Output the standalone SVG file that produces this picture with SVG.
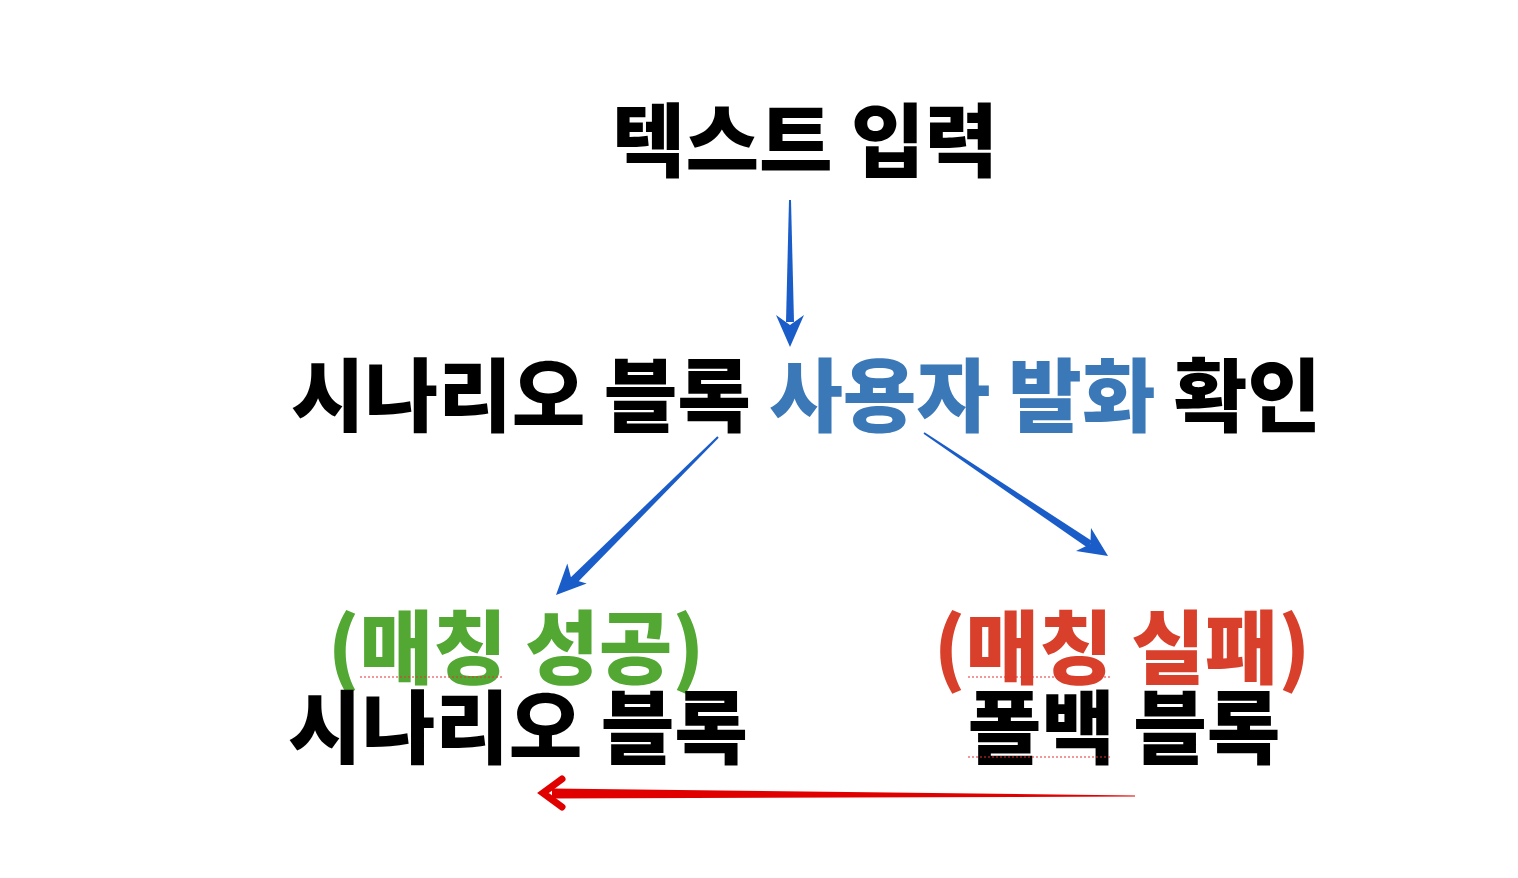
<svg xmlns="http://www.w3.org/2000/svg" width="1518" height="878" viewBox="0 0 1518 878">
<style>
text{font-family:"Noto Sans CJK KR","Noto Sans",sans-serif;font-weight:900;font-size:80px;text-anchor:middle}
.k{fill:#000}.b{fill:#3a78b8}.g{fill:#52a833}.r{fill:#d9402b}
.blue{fill:#1a5cc8}.u{stroke:#e53030;stroke-width:1.2;stroke-dasharray:2 2;fill:none}
</style>
<rect width="1518" height="878" fill="#fff"/>
<g id="input"><text x="805" y="170" class="k">텍스트 입력</text></g>
<g id="check"><text x="806" y="425" class="k">시나리오 블록 <tspan class="b">사용자 발화</tspan> 확인</text></g>
<g id="scenario"><text x="516" y="677" class="g">(매칭 성공)</text><text x="518" y="757" class="k">시나리오 블록</text><line class="u" x1="360" y1="677" x2="504" y2="677"/></g>
<g id="fallback"><text x="1122" y="677" class="r">(매칭 실패)</text><text x="1124" y="757" class="k">폴백 블록</text><line class="u" x1="968" y1="677" x2="1110" y2="677"/><line class="u" x1="968" y1="757" x2="1110" y2="757"/></g>
<g id="connectors">
<polygon class="blue" points="789,200 791,200 794,322 786,322"/>
<polygon class="blue" points="790,347 776,315 790,325 804,315"/>
<polygon class="blue" points="718.7,437.7 717.3,436.3 568,580 574,586"/>
<polygon class="blue" points="556,595 567.3,563.4 571.4,579.1 586.7,583.6"/>
<polygon class="blue" points="924.5,432.2 923.5,433.8 1088,548 1092,541"/>
<polygon class="blue" points="1108,556 1076,551 1090.4,543.9 1091,528"/>
<polygon fill="#e00000" points="1135,795.5 1135,796.5 552,798.5 552,788.5"/>
<polyline points="562,779 543,793 562,807" fill="none" stroke="#e00000" stroke-width="7" stroke-linecap="round" stroke-linejoin="miter"/>
</g>
</svg>
